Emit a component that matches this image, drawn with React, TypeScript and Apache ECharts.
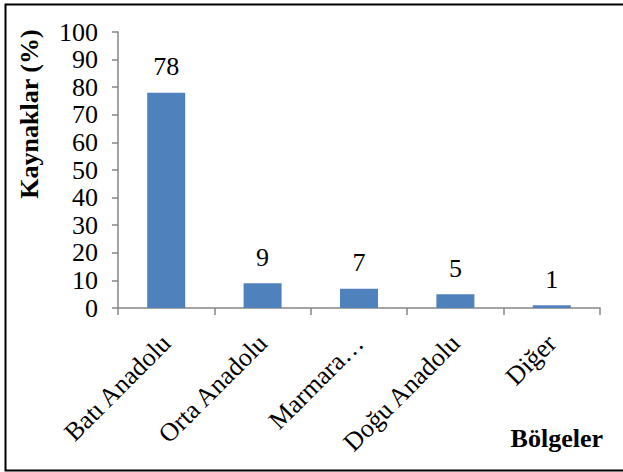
import React, { useEffect, useRef } from "react";
import * as echarts from "echarts";

const categories = ["Batı Anadolu", "Orta Anadolu", "Marmara…", "Doğu Anadolu", "Diğer"];
const values = [78, 9, 7, 5, 1];
const yTicks = { min: 0, max: 100, interval: 10 };
const yTitle = "Kaynaklar (%)";
const xTitle = "Bölgeler";

const FONT = "Liberation Serif";

export default function App() {
  const ref = useRef<HTMLDivElement>(null);
  useEffect(() => {
    document.body.style.margin = "0";
    const chart = echarts.init(ref.current!, undefined, { renderer: "svg" });
    chart.setOption({
      animation: false,
      backgroundColor: "#ffffff",
      grid: { left: 118, right: 23, top: 32, bottom: 164, containLabel: false },
      xAxis: {
        type: "category",
        data: categories,
        axisLine: { lineStyle: { color: "#868686", width: 1.5 } },
        axisTick: { show: true, length: 7, alignWithLabel: false, lineStyle: { color: "#868686", width: 1.5 } },
        axisLabel: {
          rotate: 45,
          margin: 31,
          color: "#000",
          fontFamily: FONT,
          fontSize: 26,
          interval: 0,
        },
      },
      yAxis: {
        type: "value",
        min: yTicks.min,
        max: yTicks.max,
        interval: yTicks.interval,
        axisLine: { show: true, lineStyle: { color: "#868686", width: 1.5 } },
        axisTick: { show: true, length: 6, lineStyle: { color: "#868686", width: 1.5 } },
        splitLine: { show: false },
        axisLabel: { color: "#000", fontFamily: FONT, fontSize: 26, margin: 20 },
      },
      series: [
        {
          type: "bar",
          data: values,
          barWidth: 38,
          itemStyle: { color: "#4F81BD" },
          label: {
            show: true,
            position: "top",
            distance: 13,
            color: "#000",
            fontFamily: FONT,
            fontSize: 26,
          },
        },
      ],
      graphic: [
        {
          type: "rect",
          shape: { x: 5.5, y: 4.5, width: 640, height: 466 },
          style: { fill: "none", stroke: "#000", lineWidth: 2 },
          silent: true,
        },
        {
          type: "text",
          x: 29,
          y: 114,
          rotation: Math.PI / 2,
          style: {
            text: yTitle,
            fontFamily: FONT,
            fontSize: 26,
            fontWeight: "bold",
            fill: "#000",
            align: "center",
            verticalAlign: "middle",
          },
        },
        {
          type: "text",
          x: 603,
          y: 438,
          style: {
            text: xTitle,
            fontFamily: FONT,
            fontSize: 26,
            fontWeight: "bold",
            fill: "#000",
            align: "right",
            verticalAlign: "middle",
          },
        },
      ],
    });
    return () => chart.dispose();
  }, []);
  return <div ref={ref} style={{ width: 623, height: 472 }} />;
}
